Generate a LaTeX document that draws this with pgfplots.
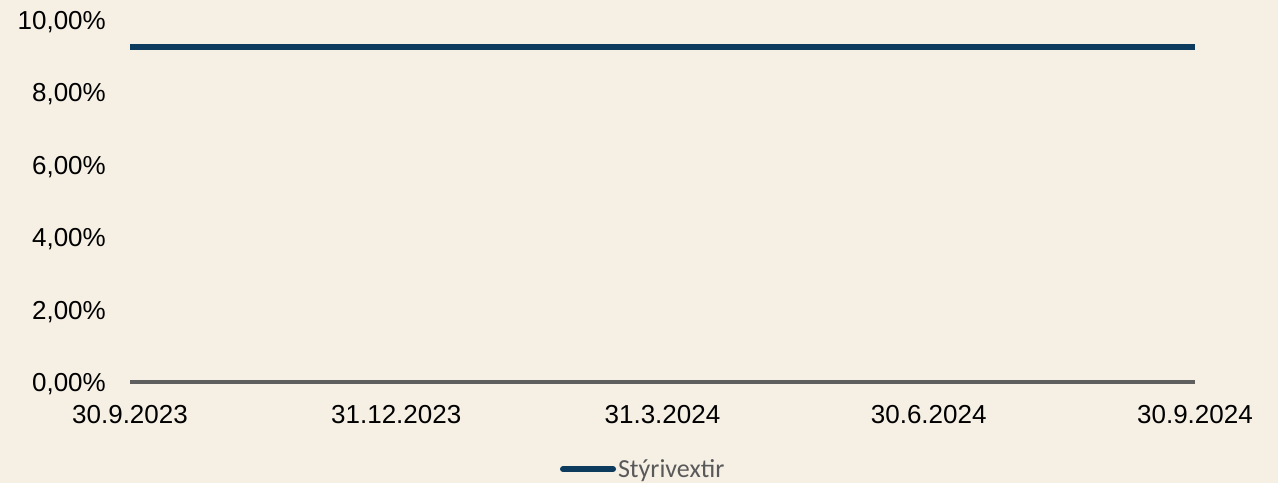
\documentclass[border=0pt]{standalone}
\usepackage{fontspec}
\setmainfont{Liberation Sans}
\newfontfamily\legendfont{Carlito}
\usepackage{pgfplots}
\pgfplotsset{compat=1.18}
\definecolor{bgbeige}{HTML}{F5EFE4}
\definecolor{navy}{HTML}{0C3B5E}
\definecolor{basegrey}{HTML}{5F5F5F}
\definecolor{legendgrey}{HTML}{595959}

\begin{document}
\begin{tikzpicture}
\path[use as bounding box, fill=bgbeige] (0,0) rectangle (1278pt,483pt);
\begin{axis}[
  at={(130pt,101pt)}, anchor=south west,
  scale only axis,
  width=1065pt, height=362pt,
  xmin=0, xmax=4, ymin=0, ymax=10,
  axis line style={draw=none},
  tick style={draw=none},
  xtick={0,1,2,3,4},
  xticklabels={30.9.2023,31.12.2023,31.3.2024,30.6.2024,30.9.2024},
  ytick={0,2,4,6,8,10},
  yticklabels={{0,00\%},{2,00\%},{4,00\%},{6,00\%},{8,00\%},{10,00\%}},
  tick label style={font=\fontsize{26}{31}\selectfont, text=black, inner sep=0pt},
  yticklabel style={anchor=east, xshift=-24pt, yshift=-2pt},
  xticklabel style={anchor=north, yshift=-23pt},
  legend style={
    at={(0.4038,-0.2405)}, anchor=west,
    draw=none, fill=none, inner sep=0pt, outer sep=0pt,
    font=\legendfont\fontsize{26}{31}\selectfont, text=legendgrey,
    cells={anchor=west, inner sep=1pt},
  },
  legend image code/.code={
    \draw[#1, line cap=round] (0pt,0pt) -- (50pt,0pt);
  },
  clip=false,
]
% baseline at zero
\addplot[basegrey, line width=3.3pt, forget plot] coordinates {(0,0) (4,0)};
% policy rate
\addplot[navy, line width=6pt] coordinates {
  (0,9.25) (1,9.25) (2,9.25) (3,9.25) (4,9.25)
};
\addlegendentry{Stýrivextir}
\end{axis}
\end{tikzpicture}
\end{document}
